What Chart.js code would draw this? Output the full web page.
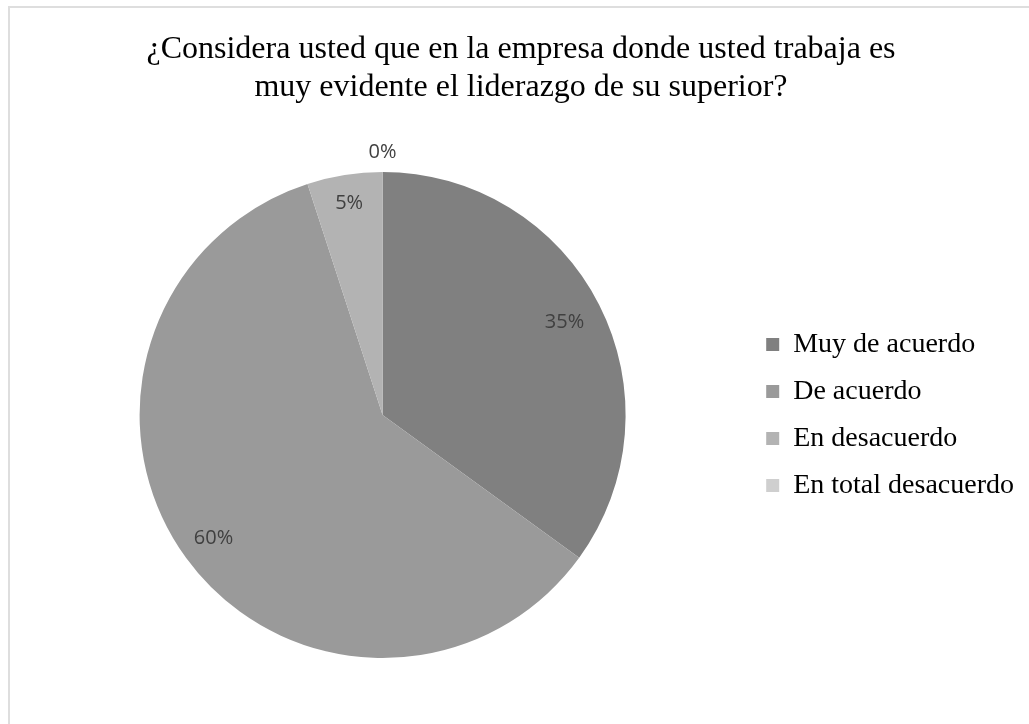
<!DOCTYPE html>
<html>
<head>
<meta charset="utf-8">
<script src="https://cdn.jsdelivr.net/npm/chart.js@4.4.1/dist/chart.umd.min.js"></script>
<style>
    body { margin: 0; background: #fff; }
    #wrap { position: relative; width: 1029px; height: 724px; overflow: hidden; }
    #frame { position: absolute; left: 8px; top: 6px; width: 1100px; height: 800px; border: 2px solid #dedede; box-sizing: border-box; }
    #pieChart { position: absolute; left: 0; top: 0; }
</style>
</head>
<body>
<div id="wrap">
    <div id="frame"></div>
    <canvas id="pieChart" width="1029" height="724"></canvas>
</div>
<script>
const titleLines = ['¿Considera usted que en la empresa donde usted trabaja es', 'muy evidente el liderazgo de su superior?'];
const categories = ['Muy de acuerdo', 'De acuerdo', 'En desacuerdo', 'En total desacuerdo'];
const percents = [35, 60, 5, 0];
const sliceColors = ['#808080', '#9a9a9a', '#b3b3b3', '#cfcfcf'];
// where each % label sits, as a share of the radius
const labelRadius = [0.84, 0.86, 0.88, 1.08];

const percentLabels = {
    id: 'percentLabels',
    afterDatasetsDraw(chart) {
        const ctx = chart.ctx;
        const meta = chart.getDatasetMeta(0);
        ctx.save();
        ctx.font = '20px "Open Sans"';
        ctx.fillStyle = '#404040';
        ctx.textAlign = 'center';
        ctx.textBaseline = 'middle';
        meta.data.forEach((arc, i) => {
            const mid = (arc.startAngle + arc.endAngle) / 2;
            const r = arc.outerRadius * labelRadius[i];
            ctx.fillText(percents[i] + '%', arc.x + Math.cos(mid) * r, arc.y + Math.sin(mid) * r);
        });
        ctx.restore();
    }
};

const ctx = document.getElementById('pieChart').getContext('2d');

new Chart(ctx, {
    type: 'pie',
    data: {
        labels: categories,
        datasets: [{
            data: percents,
            backgroundColor: sliceColors,
            borderWidth: 0,
            hoverOffset: 0
        }]
    },
    options: {
        responsive: false,
        animation: false,
        layout: {
            padding: { top: 8, left: 18, right: 5, bottom: 66 }
        },
        plugins: {
            title: {
                display: true,
                text: titleLines,
                color: '#000',
                font: { family: '"Liberation Serif", "Times New Roman", serif', size: 32, weight: 'normal' },
                padding: { top: 22, bottom: 65.2 }
            },
            legend: {
                position: 'right',
                fullSize: false,
                labels: {
                    color: '#000',
                    font: { family: '"Liberation Serif", "Times New Roman", serif', size: 28 },
                    boxWidth: 13,
                    boxHeight: 13,
                    padding: 19
                }
            },
            tooltip: { enabled: false }
        }
    },
    plugins: [percentLabels]
});
</script>
</body>
</html>
